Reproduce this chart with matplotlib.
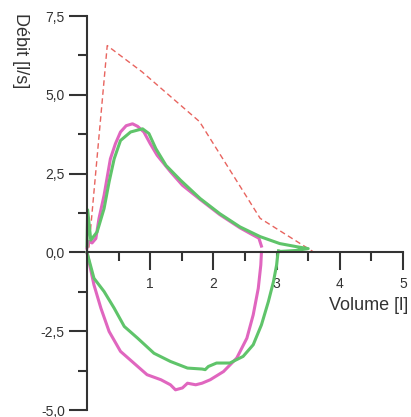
import matplotlib
matplotlib.use('Agg')
import matplotlib.pyplot as plt

plt.rcParams['font.family'] = ['Liberation Sans', 'DejaVu Sans']

# predicted (theoretical) curve
pred_x = [0.03, 0.32, 0.87, 1.78, 2.74, 3.58]
pred_y = [0.15, 6.56, 5.73, 4.15, 1.08, 0.02]

# pink loop - expiration then inspiration
pink_exp_x = [0.00, 0.03, 0.08, 0.14, 0.19, 0.27, 0.37, 0.45, 0.53, 0.62, 0.72, 0.80, 0.90,
              1.00, 1.11, 1.32, 1.51, 1.79, 2.10, 2.42, 2.60, 2.72, 2.76]
pink_exp_y = [0.13, 0.35, 0.30, 0.44, 1.08, 1.81, 2.97, 3.45, 3.82, 4.02, 4.08, 4.00, 3.82,
              3.45, 3.08, 2.56, 2.13, 1.68, 1.20, 0.78, 0.58, 0.45, 0.20]
pink_insp_x = [0.00, 0.11, 0.22, 0.35, 0.53, 0.74, 0.95, 1.17, 1.32, 1.40, 1.51, 1.59, 1.72,
               1.82, 1.95, 2.16, 2.37, 2.53, 2.63, 2.71, 2.75, 2.76]
pink_insp_y = [0.00, -1.03, -1.77, -2.51, -3.14, -3.51, -3.88, -4.04, -4.20, -4.36, -4.30, -4.15, -4.20,
               -4.15, -4.04, -3.78, -3.35, -2.72, -1.98, -1.14, -0.40, 0.00]

# green loop
green_exp_x = [0.00, 0.01, 0.06, 0.16, 0.27, 0.35, 0.43, 0.53, 0.69, 0.80, 0.88, 0.98, 1.09,
               1.25, 1.48, 1.79, 2.10, 2.42, 2.74, 3.05, 3.32, 3.50, 3.30, 3.05]
green_exp_y = [0.20, 1.35, 0.39, 0.65, 1.39, 2.24, 2.97, 3.55, 3.82, 3.88, 3.92, 3.77, 3.29,
               2.76, 2.29, 1.71, 1.23, 0.81, 0.50, 0.28, 0.18, 0.12, 0.06, 0.03]
green_insp_x = [0.00, 0.11, 0.27, 0.43, 0.59, 0.80, 1.06, 1.32, 1.59, 1.82, 1.87, 1.92, 2.05,
                2.26, 2.47, 2.63, 2.76, 2.87, 2.95, 3.00, 3.02, 3.03]
green_insp_y = [0.00, -0.82, -1.24, -1.77, -2.35, -2.72, -3.20, -3.46, -3.67, -3.70, -3.72, -3.62, -3.51,
                -3.51, -3.30, -2.93, -2.30, -1.56, -0.93, -0.40, -0.05, 0.05]

y_ticks = [-5.0, -2.5, 0.0, 2.5, 5.0, 7.5]
y_labels = ['-5,0', '-2,5', '0,0', '2,5', '5,0', '7,5']
x_ticks = [1, 2, 3, 4, 5]

TXT = '#333333'
PINK = '#e066bf'
GREEN = '#5fc46a'
RED = '#e8645f'

fig = plt.figure(figsize=(4.11, 4.17), dpi=100)
ax = fig.add_axes([87 / 411, 7 / 417, 316 / 411, 394 / 417])

ax.plot(pred_x, pred_y, color=RED, lw=1.0, dashes=(4, 2.5), clip_on=False)
ax.plot(pink_exp_x, pink_exp_y, color=PINK, lw=2.2, clip_on=False)
ax.plot(pink_insp_x, pink_insp_y, color=PINK, lw=2.2, clip_on=False)
ax.plot(green_exp_x, green_exp_y, color=GREEN, lw=2.2, clip_on=False)
ax.plot(green_insp_x, green_insp_y, color=GREEN, lw=2.2, clip_on=False)

ax.set_xlim(0, 5)
ax.set_ylim(-5, 7.5)
ax.spines['top'].set_visible(False)
ax.spines['right'].set_visible(False)
ax.spines['bottom'].set_position(('data', 0))
for s in ('left', 'bottom'):
    ax.spines[s].set_color(TXT)
    ax.spines[s].set_linewidth(1.5)

ax.set_yticks(y_ticks)
ax.set_yticklabels(y_labels)
ax.set_yticks([-3.75, -1.25, 1.25, 3.75, 6.25], minor=True)
ax.set_xticks(x_ticks)
ax.set_xticklabels([str(v) for v in x_ticks])
ax.set_xticks([0.5, 1.5, 2.5, 3.5, 4.5], minor=True)

ax.tick_params(which='major', length=13, width=1.5, color=TXT, labelcolor=TXT, labelsize=10)
ax.tick_params(which='minor', length=6.5, width=1.5, color=TXT)
ax.tick_params(axis='y', which='major', pad=3)
ax.tick_params(axis='x', which='major', pad=5)

ax.text(5.08, -1.68, 'Volume [l]', ha='right', va='center', fontsize=13, color=TXT)
fig.text(20 / 411, 1 - 13 / 417, 'Débit [l/s]', rotation=270, ha='center', va='top',
         fontsize=13, color=TXT)

fig.savefig('out.png', dpi=100)
